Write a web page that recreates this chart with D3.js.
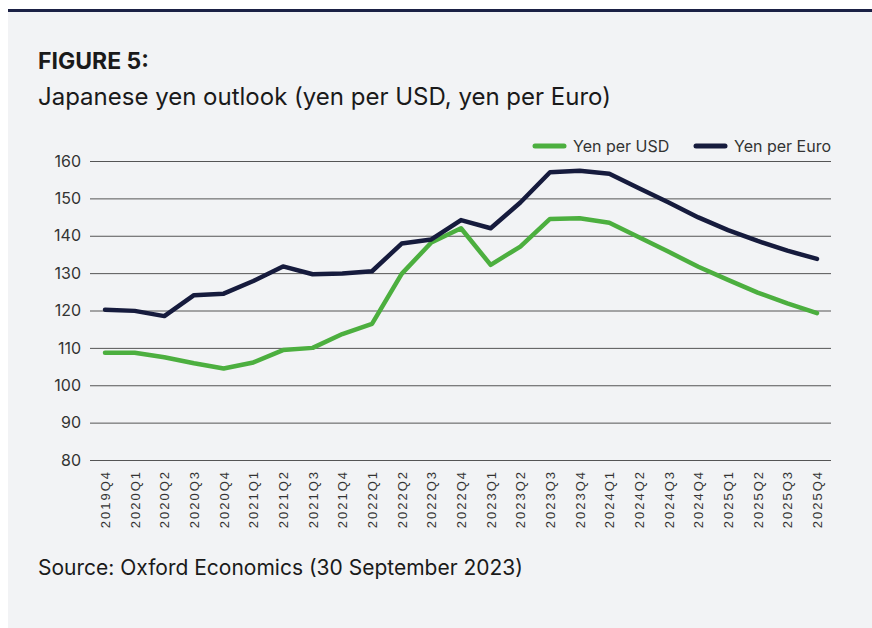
<!DOCTYPE html>
<html>
<head>
<meta charset="utf-8">
<script src="https://cdn.jsdelivr.net/npm/d3@7"></script>
<style>
  body { margin: 0; background: #ffffff; }
  svg { display: block; }
</style>
</head>
<body>
<div id="chart"></div>
<script>
// quarters on the x axis
var quarters = ["2019Q4", "2020Q1", "2020Q2", "2020Q3", "2020Q4", "2021Q1", "2021Q2",
  "2021Q3", "2021Q4", "2022Q1", "2022Q2", "2022Q3", "2022Q4", "2023Q1", "2023Q2",
  "2023Q3", "2023Q4", "2024Q1", "2024Q2", "2024Q3", "2024Q4", "2025Q1", "2025Q2",
  "2025Q3", "2025Q4"];

var yenPerUsd = [108.7, 108.7, 107.5, 105.9, 104.5, 106.1, 109.4, 110.0, 113.7, 116.4,
  129.8, 138.2, 142.0, 132.2, 137.1, 144.5, 144.7, 143.5, 139.6, 135.7, 131.7, 128.2,
  124.8, 121.9, 119.3];

var yenPerEuro = [120.2, 119.9, 118.5, 124.1, 124.5, 127.9, 131.8, 129.7, 129.9, 130.5,
  137.9, 139.0, 144.2, 142.0, 148.9, 157.0, 157.4, 156.6, 152.7, 148.9, 144.9, 141.5,
  138.6, 136.0, 133.8];

var yTicks = [80, 90, 100, 110, 120, 130, 140, 150, 160];

var W = 872, H = 628;
var margin = { top: 161, right: 41, bottom: 168, left: 90 };
var width = W - margin.left - margin.right,
    height = H - margin.top - margin.bottom;

var font = "Inter, Roboto, sans-serif";

var svg = d3.select("#chart")
  .append("svg")
  .attr("width", W)
  .attr("height", H);

// panel background and top rule
svg.append("rect").attr("x", 8).attr("y", 11).attr("width", W - 8).attr("height", H - 11)
  .attr("fill", "#f2f3f5");
svg.append("rect").attr("x", 8).attr("y", 9).attr("width", W - 8).attr("height", 3)
  .attr("fill", "#1b2145");

svg.append("text").attr("x", 38).attr("y", 69)
  .style("font-family", font).style("font-weight", 700)
  .style("font-size", "23px").attr("fill", "#1a1a1a")
  .text("FIGURE 5:");
svg.append("text").attr("x", 38).attr("y", 105)
  .style("font-family", font)
  .style("font-size", "24px").attr("fill", "#1a1a1a")
  .text("Japanese yen outlook (yen per USD, yen per Euro)");
svg.append("text").attr("x", 38).attr("y", 575)
  .style("font-family", font)
  .style("font-size", "21px").attr("fill", "#1a1a1a")
  .text("Source: Oxford Economics (30 September 2023)");

var g = svg.append("g")
  .attr("transform", "translate(" + margin.left + "," + margin.top + ")");

var x = d3.scalePoint()
  .domain(quarters)
  .range([15, width - 14]);

var y = d3.scaleLinear()
  .domain([80, 160])
  .range([height, 0]);

// gridlines + y labels
var yAxis = g.append("g")
  .call(d3.axisLeft(y).tickValues(yTicks).tickSize(-width).tickPadding(9));
yAxis.select(".domain").remove();
yAxis.selectAll(".tick line").attr("stroke", "#555").attr("stroke-width", 1);
yAxis.selectAll(".tick text")
  .style("font-family", font).style("font-size", "16px")
  .attr("fill", "#333");

// x labels
var xAxis = g.append("g")
  .attr("transform", "translate(0," + height + ")")
  .call(d3.axisBottom(x).tickSize(0).tickPadding(0));
xAxis.select(".domain").remove();
xAxis.selectAll(".tick text")
  .attr("transform", "rotate(-90)")
  .attr("x", -10).attr("y", 0).attr("dy", "0.35em")
  .style("text-anchor", "end")
  .style("font-family", "'Liberation Sans', Arial, sans-serif").style("font-size", "13px")
  .style("letter-spacing", "2px")
  .attr("fill", "#333");

var line = d3.line()
  .x(function (d, i) { return x(quarters[i]); })
  .y(function (d) { return y(d); });

g.append("path").datum(yenPerUsd)
  .attr("d", line).attr("fill", "none")
  .attr("stroke", "#4caf3f").attr("stroke-width", 4.5)
  .attr("stroke-linejoin", "round").attr("stroke-linecap", "round");

g.append("path").datum(yenPerEuro)
  .attr("d", line).attr("fill", "none")
  .attr("stroke", "#161b3d").attr("stroke-width", 4.5)
  .attr("stroke-linejoin", "round").attr("stroke-linecap", "round");

// legend
var legendItems = [
  { name: "Yen per USD", color: "#4caf3f", x: 535 },
  { name: "Yen per Euro", color: "#161b3d", x: 696 }
];
var legend = svg.append("g").selectAll("g")
  .data(legendItems).enter().append("g")
  .attr("transform", function (d) { return "translate(" + d.x + ",146)"; });
legend.append("line")
  .attr("x1", 0).attr("x2", 29).attr("y1", 0).attr("y2", 0)
  .attr("stroke", function (d) { return d.color; })
  .attr("stroke-width", 5).attr("stroke-linecap", "round");
legend.append("text")
  .attr("x", 38).attr("y", 0).attr("dy", "0.35em")
  .style("font-family", font).style("font-size", "16px")
  .attr("fill", "#333")
  .text(function (d) { return d.name; });
</script>
</body>
</html>
